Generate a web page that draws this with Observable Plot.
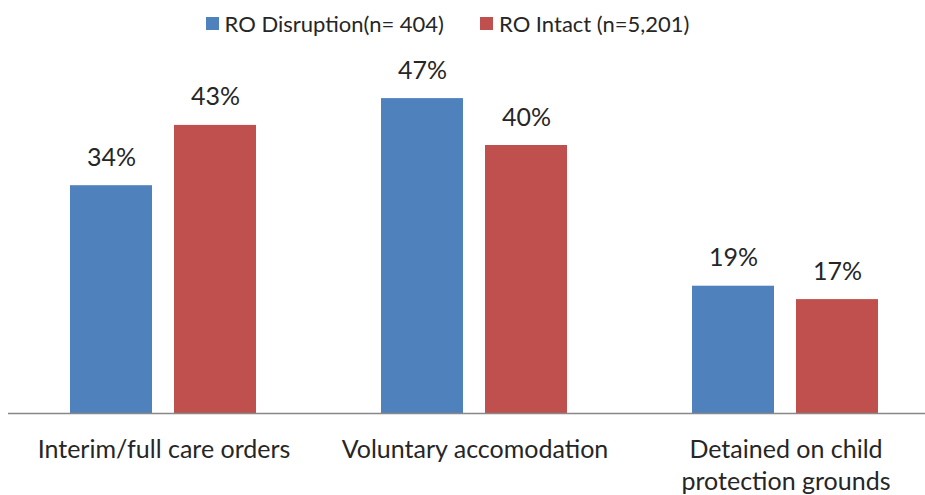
<!DOCTYPE html>
<html>
<head>
<meta charset="utf-8">
<script src="https://cdn.jsdelivr.net/npm/d3@7"></script>
<script src="https://cdn.jsdelivr.net/npm/@observablehq/plot@0.6"></script>
<style>
  body { margin: 0; background: #fff; font-family: Lato, "Open Sans", sans-serif; }
  #legend { height: 50px; display: flex; justify-content: center; align-items: center; gap: 36px; font-size: 22px; color: #262626; padding-right: 30px; padding-bottom: 4px; box-sizing: border-box; }
  #legend .item { display: flex; align-items: center; gap: 6px; }
  #legend .sw { width: 13px; height: 13px; display: inline-block; }
</style>
</head>
<body>
<div id="legend"></div>
<div id="chart"></div>
<script>
const categories = ["Interim/full care orders", "Voluntary accomodation", "Detained on child\nprotection grounds"];
const series = ["RO Disruption(n= 404)", "RO Intact (n=5,201)"];
const colors = ["#4F81BD", "#C0504D"];
const disruption = [34, 47, 19];
const intact = [43, 40, 17];

const data = [];
categories.forEach((c, i) => {
  data.push({category: c, series: series[0], value: disruption[i]});
  data.push({category: c, series: series[1], value: intact[i]});
});

const legend = document.getElementById("legend");
series.forEach((s, i) => {
  const item = document.createElement("div");
  item.className = "item";
  const sw = document.createElement("span");
  sw.className = "sw";
  sw.style.background = colors[i];
  const t = document.createElement("span");
  t.textContent = s;
  item.append(sw, t);
  legend.append(item);
});

const chart = Plot.plot({
  width: 925,
  height: 445,
  marginTop: 28,
  marginBottom: 82,
  marginLeft: 8,
  marginRight: 0,
  style: {fontFamily: "Lato, 'Open Sans', sans-serif", fontSize: "25px", color: "#262626", background: "#fff", overflow: "visible"},
  fx: {domain: categories, range: [8, 941], padding: 0, label: null},
  x: {domain: series, paddingInner: 0.21, paddingOuter: 0.6, axis: null},
  y: {domain: [0, 50], axis: null},
  color: {domain: series, range: colors},
  marks: [
    Plot.barY(data, {fx: "category", x: "series", y: "value", fill: "series"}),
    Plot.text(data, {fx: "category", x: "series", y: "value", text: d => d.value + "%", dy: -28, fontSize: 25, fill: "#262626"}),
    Plot.ruleY([0], {stroke: "#888", strokeWidth: 1.3}),
    Plot.axisFx({anchor: "bottom", tickSize: 0, tickPadding: 22, fontSize: 25, lineHeight: 1.28, label: null, fill: "#262626"})
  ]
});
document.getElementById("chart").append(chart);
</script>
</body>
</html>
